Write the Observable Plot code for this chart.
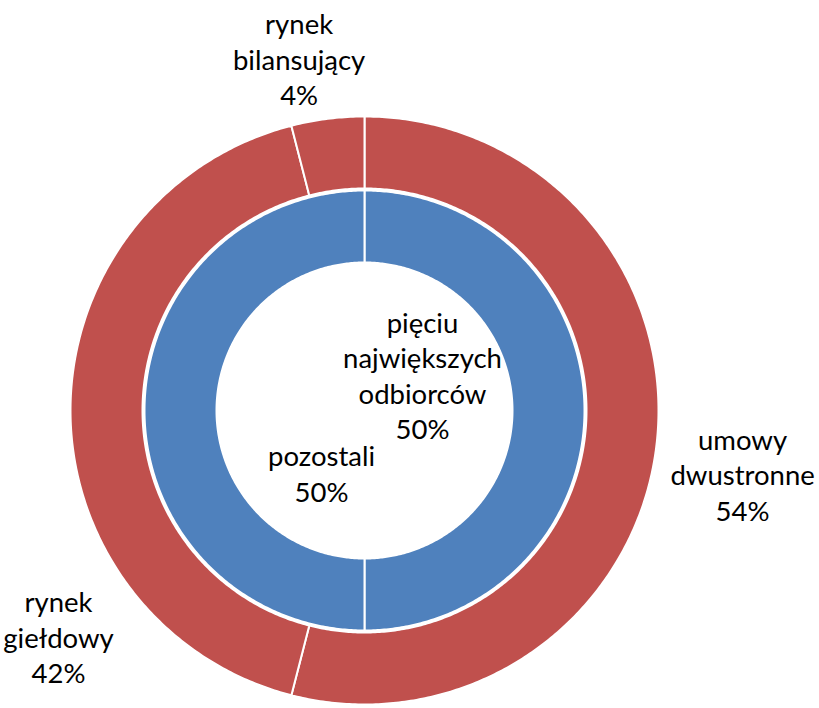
<!DOCTYPE html>
<html>
<head>
<meta charset="utf-8">
<script src="https://cdn.jsdelivr.net/npm/d3@7"></script>
<script src="https://cdn.jsdelivr.net/npm/@observablehq/plot@0.6"></script>
<style>
  html, body { margin: 0; padding: 0; background: #fff; }
  #chart { width: 819px; height: 708px; }
</style>
</head>
<body>
<div id="chart"></div>
<script>
// ---- data ----
const outerCategories = ["umowy dwustronne", "rynek giełdowy", "rynek bilansujący"];
const outerLabels = ["umowy\ndwustronne", "rynek\ngiełdowy", "rynek\nbilansujący"];
const outerValues = [54, 42, 4];

const innerCategories = ["pięciu największych odbiorców", "pozostali"];
const innerLabels = ["pięciu\nnajwiększych\nodbiorców", "pozostali"];
const innerValues = [50, 50];

// ---- layout / style ----
const W = 819, H = 708;
const CX = 364, CY = 410;              // ring centre in pixels
const rings = {
  outer: {r0: 222, r1: 294, color: "#C0504D", labelR: 370},
  inner: {r0: 148, r1: 220, color: "#4F81BD", labelR: 50}
};
// text nudges (pixels) per slice label
const outerNudge = [[11, 17], [64, 226], [-19, 15]];
const innerNudge = [[8, -36], [7, 62]];

const pie = d3.pie().sort(null).startAngle(0).endAngle(2 * Math.PI);

function slicePolys(values, names, ring) {
  const arcs = pie(values);
  const pts = [];
  arcs.forEach((a, i) => {
    const n = Math.max(4, Math.ceil((a.endAngle - a.startAngle) / 0.01));
    for (let k = 0; k <= n; k++) {
      const t = a.startAngle + (a.endAngle - a.startAngle) * k / n;
      pts.push({key: names[i], x: ring.r1 * Math.sin(t), y: ring.r1 * Math.cos(t)});
    }
    for (let k = n; k >= 0; k--) {
      const t = a.startAngle + (a.endAngle - a.startAngle) * k / n;
      pts.push({key: names[i], x: ring.r0 * Math.sin(t), y: ring.r0 * Math.cos(t)});
    }
  });
  return pts;
}

function sliceLabels(values, labels, ring, nudge) {
  return pie(values).map((a, i) => {
    const m = (a.startAngle + a.endAngle) / 2;
    return {
      text: `${labels[i]}\n${values[i]}%`,
      x: ring.labelR * Math.sin(m),
      y: ring.labelR * Math.cos(m),
      dx: nudge[i][0], dy: nudge[i][1]
    };
  });
}

const outerPolys = slicePolys(outerValues, outerCategories, rings.outer);
const innerPolys = slicePolys(innerValues, innerCategories, rings.inner);
const labels = [
  ...sliceLabels(outerValues, outerLabels, rings.outer, outerNudge),
  ...sliceLabels(innerValues, innerLabels, rings.inner, innerNudge)
];

const textMarks = labels.map(l => Plot.text([l], {
  x: "x", y: "y", text: "text",
  dx: l.dx, dy: l.dy,
  textAnchor: "middle", lineAnchor: "middle",
  lineHeight: 1.29, fontSize: 27.5, fill: "#000"
}));

const chart = Plot.plot({
  width: W, height: H,
  marginTop: 0, marginRight: 0, marginBottom: 0, marginLeft: 0,
  style: {fontFamily: "Lato, 'Open Sans', sans-serif", background: "#fff"},
  x: {domain: [-CX, W - CX], axis: null},
  y: {domain: [-(H - CY), CY], axis: null},
  marks: [
    Plot.line(outerPolys, {x: "x", y: "y", z: "key", fill: rings.outer.color,
      stroke: "#fff", strokeWidth: 2, curve: "linear-closed"}),
    Plot.line(innerPolys, {x: "x", y: "y", z: "key", fill: rings.inner.color,
      stroke: "#fff", strokeWidth: 2, curve: "linear-closed"}),
    ...textMarks
  ]
});
document.getElementById("chart").appendChild(chart);
</script>
</body>
</html>
